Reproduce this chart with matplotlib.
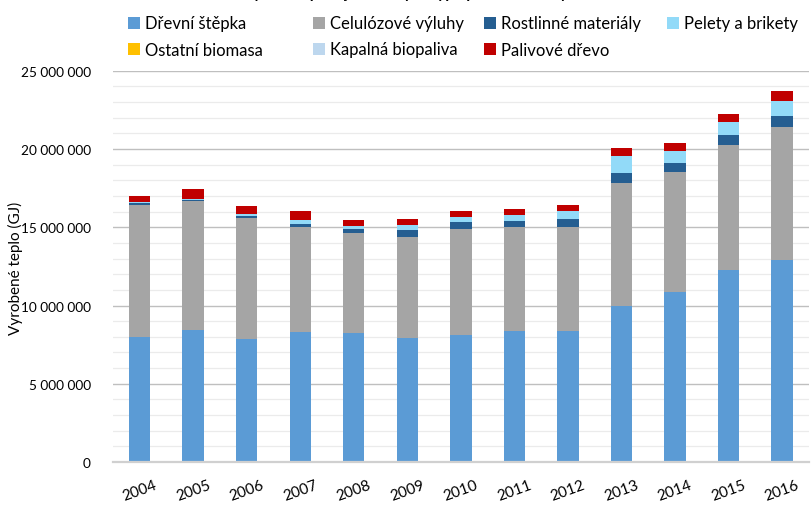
import matplotlib
matplotlib.use("Agg")
import matplotlib.pyplot as plt
import numpy as np
from matplotlib.ticker import MultipleLocator, FuncFormatter

plt.rcParams['font.family'] = ['Lato', 'DejaVu Sans']

years = ['2004', '2005', '2006', '2007', '2008', '2009', '2010',
         '2011', '2012', '2013', '2014', '2015', '2016']

# values in GJ
drevni_stepka = [8010000, 8460000, 7890000, 8310000, 8270000, 7910000, 8120000,
                 8400000, 8400000, 10000000, 10890000, 12300000, 12940000]
celulozove_vyluhy = [8420000, 8210000, 7710000, 6720000, 6370000, 6480000, 6780000,
                     6630000, 6610000, 7840000, 7650000, 7970000, 8480000]
rostlinne_materialy = [110000, 80000, 110000, 210000, 260000, 420000, 450000,
                       400000, 490000, 640000, 600000, 640000, 720000]
pelety_brikety = [60000, 50000, 150000, 230000, 190000, 360000, 340000,
                  340000, 550000, 1070000, 740000, 810000, 920000]
ostatni_biomasa = [0, 0, 0, 0, 0, 0, 0, 0, 0, 0, 0, 0, 0]
kapalna_biopaliva = [0, 0, 0, 0, 0, 0, 0, 0, 0, 0, 0, 0, 0]
palivove_drevo = [390000, 630000, 510000, 600000, 380000, 340000, 380000,
                  390000, 400000, 510000, 490000, 510000, 640000]

series = [
    ('Dřevní štěpka', drevni_stepka, '#5B9BD5'),
    ('Celulózové výluhy', celulozove_vyluhy, '#A5A5A5'),
    ('Rostlinné materiály', rostlinne_materialy, '#255E91'),
    ('Pelety a brikety', pelety_brikety, '#92DAF8'),
    ('Ostatní biomasa', ostatni_biomasa, '#FFC000'),
    ('Kapalná biopaliva', kapalna_biopaliva, '#BDD7EE'),
    ('Palivové dřevo', palivove_drevo, '#C00000'),
]

fig = plt.figure(figsize=(8.12, 5.06), dpi=100)
ax = fig.add_axes([0.139, 0.085, 0.857, 0.773])

x = np.arange(len(years))
bottom = np.zeros(len(years))
handles = []
for name, vals, color in series:
    b = ax.bar(x, vals, 0.4, bottom=bottom, color=color, label=name,
               linewidth=0, zorder=3)
    handles.append(b)
    bottom += np.array(vals)

ax.set_xlim(-0.5, len(years) - 0.5)
ax.set_ylim(0, 25000000)
ax.yaxis.set_major_locator(MultipleLocator(5000000))
ax.yaxis.set_minor_locator(MultipleLocator(1000000))
ax.yaxis.set_major_formatter(FuncFormatter(lambda v, p: f'{int(v):,}'.replace(',', ' ')))
ax.grid(axis='y', which='major', color='#BFBFBF', lw=1.0, zorder=0)
ax.grid(axis='y', which='minor', color='#EBEBEB', lw=0.9, zorder=0)
for s in ['top', 'right', 'left']:
    ax.spines[s].set_visible(False)
ax.spines['bottom'].set_color('#D0D0D0')
ax.spines['bottom'].set_linewidth(1.6)
ax.spines['bottom'].set_zorder(4)
ax.tick_params(axis='y', which='both', length=0, pad=16, labelsize=9.8)
ax.tick_params(axis='x', length=0, pad=20, labelsize=11)
ax.set_xticks(x)
ax.set_xticklabels(years, rotation=20, ha='center', va='center')
fig.text(15 / 812, 1 - 268 / 506, 'Vyrobené teplo (GJ)', rotation=90,
         ha='center', va='center', fontsize=11)

# legend: one small legend per column so the entries sit where the original has them
col_x = [128, 313, 484, 667]
cols = [[0, 4], [1, 5], [2, 6], [3]]
for cx, idx in zip(col_x, cols):
    fig.legend(handles=[handles[i] for i in idx], loc='upper left',
               bbox_to_anchor=(cx / 812, 1 - 16.5 / 506), frameon=False,
               fontsize=12, handlelength=0.7, handleheight=0.7,
               handletextpad=0.3, labelspacing=0.6, borderpad=0,
               borderaxespad=0)

# title cut off at the top edge of the picture
fig.text(0.5, 1 + 1.5 / 506, 'Výroba tepla z jednotlivých typů pevné biomasy',
         ha='center', va='baseline', fontsize=11, fontweight='bold')

fig.savefig('out.png', dpi=100)
